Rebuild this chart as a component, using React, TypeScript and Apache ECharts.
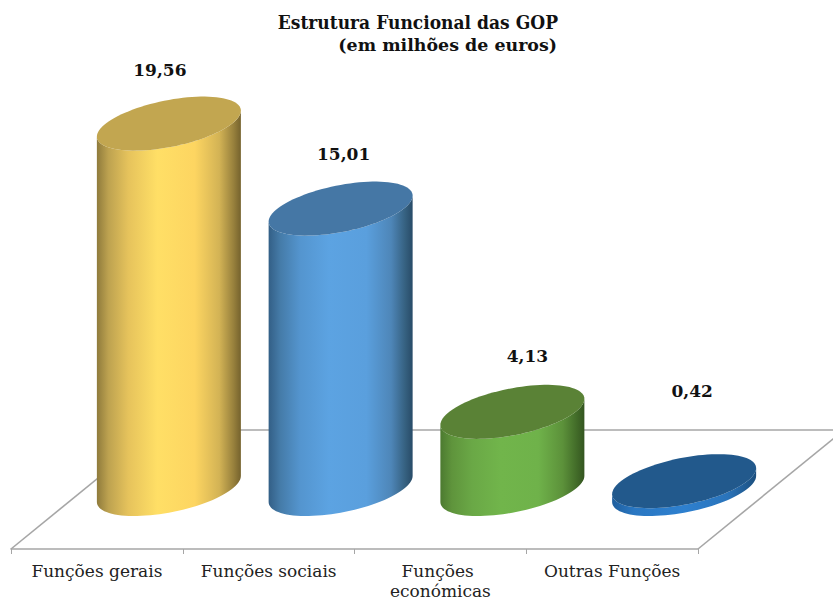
import React, { useEffect, useRef } from "react";
import * as echarts from "echarts";

const categories = ["Funções gerais", "Funções sociais", "Funções económicas", "Outras Funções"];
const values = [19.56, 15.01, 4.13, 0.42];
const valueLabels = ["19,56", "15,01", "4,13", "0,42"];
const titleText = "Estrutura Funcional das GOP";
const subtitleText = "(em milhões de euros)";

// layout & style constants (not data)
const depthX = 146;
const depthY = 119;
const shiftX = 72;
const shiftY = 60;
const radiusX = 72;
const skewY = 13;
const minorY = 23.7;
const labelOffsets = [[-9, -54], [3, -55], [15, -56], [8, -90]];
const FONT = "'DejaVu Serif', serif";
const GRID = "#a6a6a6";
const topColors = ["#c2a650", "#4577a5", "#5a8236", "#22598c"];
const bodyStops = [
  [[0, "#8f7b3c"], [0.08, "#bda250"], [0.22, "#e6c35c"], [0.42, "#ffdf66"], [0.68, "#fdd561"], [0.85, "#d3b355"], [0.95, "#97803c"], [1, "#75622d"]],
  [[0, "#335f86"], [0.08, "#457ba8"], [0.22, "#5495cf"], [0.42, "#5ca3e2"], [0.68, "#5a9fdd"], [0.85, "#4e86b8"], [0.95, "#35607f"], [1, "#284b68"]],
  [[0, "#4c7a30"], [0.08, "#5f943c"], [0.22, "#6aa846"], [0.42, "#71b54b"], [0.68, "#6fb24a"], [0.85, "#5c913a"], [0.95, "#416a28"], [1, "#345520"]],
  [[0, "#1f5f9e"], [0.15, "#2a77c2"], [0.5, "#2e80cf"], [0.8, "#2a74bb"], [1, "#1c4f7e"]],
];

function ellipsePoints(cx: number, cy: number, from: number, to: number, n = 48) {
  const pts: number[][] = [];
  for (let i = 0; i <= n; i++) {
    const t = from + ((to - from) * i) / n;
    pts.push([cx + radiusX * Math.cos(t), cy - skewY * Math.cos(t) + minorY * Math.sin(t)]);
  }
  return pts;
}

function renderFloor(params: any, api: any) {
  const origin = api.coord([0, 0]);
  const band = api.size([1, 0])[0];
  const x0 = origin[0] - band / 2;
  const y0 = origin[1];
  const x1 = x0 + band * categories.length;
  const style = { stroke: GRID, lineWidth: 1.6, fill: "none" };
  return {
    type: "group",
    children: [
      { type: "line", shape: { x1: x0, y1: y0, x2: x0 + depthX, y2: y0 - depthY }, style },
      { type: "line", shape: { x1: x1, y1: y0, x2: x1 + depthX, y2: y0 - depthY }, style },
      { type: "line", shape: { x1: x0 + depthX, y1: y0 - depthY, x2: x1 + depthX, y2: y0 - depthY }, style },
    ],
  };
}

function renderCylinder(params: any, api: any) {
  const i = params.dataIndex;
  const base = api.coord([api.value(0), 0]);
  const top = api.coord([api.value(0), api.value(1)]);
  const cx = base[0] + shiftX;
  const by = base[1] - shiftY;
  const ty = top[1] - shiftY;
  const body = [...ellipsePoints(cx, by, Math.PI, 0), ...ellipsePoints(cx, ty, 0, Math.PI)];
  return {
    type: "group",
    children: [
      {
        type: "polygon",
        shape: { points: body },
        style: { fill: new echarts.graphic.LinearGradient(0, 0, 1, 0, bodyStops[i].map(([offset, color]) => ({ offset, color })) as any) },
      },
      {
        type: "polygon",
        shape: { points: ellipsePoints(cx, ty, 0, Math.PI * 2, 96) },
        style: { fill: topColors[i] },
      },
      {
        type: "text",
        x: cx + labelOffsets[i][0],
        y: ty + labelOffsets[i][1],
        style: {
          text: valueLabels[i],
          font: `bold 17px ${FONT}`,
          fill: "#111111",
          textAlign: "center",
          textVerticalAlign: "middle",
        },
      },
    ],
  };
}

export default function App() {
  const ref = useRef<HTMLDivElement>(null);
  useEffect(() => {
    const chart = echarts.init(ref.current!, undefined, { renderer: "svg" });
    chart.setOption({
      animation: false,
      backgroundColor: "#ffffff",
      graphic: [
        {
          type: "text", x: 558, y: 23, scaleX: 0.95,
          style: { text: titleText, font: `bold 18px ${FONT}`, fill: "#111111", textAlign: "right", textVerticalAlign: "middle" },
        },
        {
          type: "text", x: 557, y: 45, scaleX: 1.09,
          style: { text: subtitleText, font: `bold 16px ${FONT}`, fill: "#111111", textAlign: "right", textVerticalAlign: "middle" },
        },
      ],
      grid: { left: 11, right: 135, top: 82, bottom: 49 },
      xAxis: {
        type: "category",
        data: categories,
        axisLine: { lineStyle: { color: GRID, width: 1.6 } },
        axisTick: { show: true, length: 5, lineStyle: { color: GRID, width: 1 } },
        axisLabel: { fontFamily: FONT, fontSize: 17, color: "#222222", margin: 12, lineHeight: 20, width: 160, overflow: "break", interval: 0 },
      },
      yAxis: { type: "value", min: 0, max: 25, show: false },
      series: [
        { type: "custom", renderItem: renderFloor, data: [[0, 0]], encode: { x: 0, y: 1 }, clip: false, silent: true, z: 1 },
        { type: "custom", renderItem: renderCylinder, data: values.map((v, i) => [i, v]), encode: { x: 0, y: 1 }, clip: false, silent: true, z: 2 },
      ],
    });
    return () => chart.dispose();
  }, []);
  return <div ref={ref} style={{ position: "fixed", left: 0, top: 0, width: 833, height: 601 }} />;
}
